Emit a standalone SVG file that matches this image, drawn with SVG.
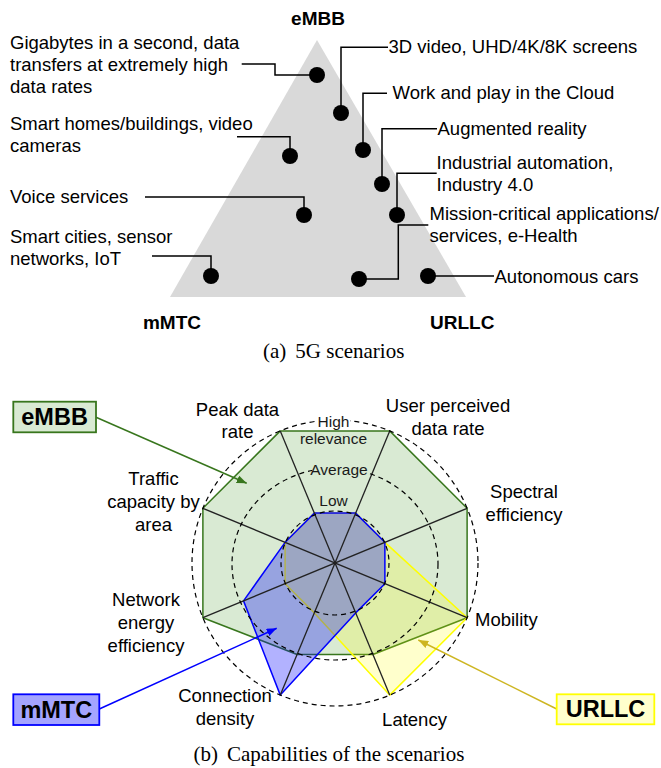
<svg xmlns="http://www.w3.org/2000/svg" width="661" height="768" viewBox="0 0 661 768">
<style>
text{font-family:"Liberation Sans",Arial,sans-serif;fill:#000}
.t{font-size:18.5px}
.b{font-weight:bold;font-size:19px}
.bx{font-weight:bold;font-size:23.5px}
.cap{font-family:"Liberation Serif","Times New Roman",serif;font-size:21px}
.r{font-size:15.5px;fill:#1a1a1a}
.con{fill:none;stroke:#000;stroke-width:1.5}
.dot{fill:#000}
.dash{fill:none;stroke:#000;stroke-width:1.2;stroke-dasharray:5 4}
.spoke{stroke:#222;stroke-width:1.3}
</style>
<defs>
<marker id="ag" markerUnits="userSpaceOnUse" markerWidth="10" markerHeight="8" refX="10" refY="4" orient="auto"><path d="M0,0 L10,4 L0,8 z" fill="#38761d"/></marker>
<marker id="ab" markerUnits="userSpaceOnUse" markerWidth="10" markerHeight="8" refX="10" refY="4" orient="auto"><path d="M0,0 L10,4 L0,8 z" fill="#0000ff"/></marker>
<marker id="ay" markerUnits="userSpaceOnUse" markerWidth="10" markerHeight="8" refX="10" refY="4" orient="auto"><path d="M0,0 L10,4 L0,8 z" fill="#cdb520"/></marker>
</defs>

<!-- (a) 5G scenarios -->
<polygon id="triangle" points="317,40 170,297 466,297" fill="#d9d9d9"/>
<g id="corners">
<text class="b" x="318" y="25" text-anchor="middle">eMBB</text>
<text class="b" x="172" y="329" text-anchor="middle">mMTC</text>
<text class="b" x="430" y="329">URLLC</text>
</g>
<g id="connectors-a">
<path class="con" d="M241.7,64 H275 V75 H317"/>
<path class="con" d="M341,113 V47.3 H388"/>
<path class="con" d="M363,150 V93.3 H387"/>
<path class="con" d="M237,136.7 H290 V156"/>
<path class="con" d="M382,184 V128.7 H437"/>
<path class="con" d="M397,215 V173.3 H436.7"/>
<path class="con" d="M145,197 H304 V215"/>
<path class="con" d="M359,279 H398.3 V225 H428.3"/>
<path class="con" d="M152,256 H211 V276"/>
<path class="con" d="M428,276 H494"/>
</g>
<g id="n-gigabytes"><text class="t" x="10" y="49">Gigabytes in a second, data</text><text class="t" x="10" y="71">transfers at extremely high</text><text class="t" x="10" y="93">data rates</text><circle class="dot" cx="317" cy="75" r="8"/></g>
<g id="n-smarthomes"><text class="t" x="10" y="130">Smart homes/buildings, video</text><text class="t" x="10" y="152">cameras</text><circle class="dot" cx="290" cy="156" r="8"/></g>
<g id="n-voice"><text class="t" x="10" y="203">Voice services</text><circle class="dot" cx="304" cy="215" r="8"/></g>
<g id="n-smartcities"><text class="t" x="10" y="243">Smart cities, sensor</text><text class="t" x="10" y="265">networks, IoT</text><circle class="dot" cx="211" cy="276" r="8"/></g>
<g id="n-3dvideo"><text class="t" x="388.5" y="53">3D video, UHD/4K/8K screens</text><circle class="dot" cx="341" cy="113" r="8"/></g>
<g id="n-cloud"><text class="t" x="392.5" y="99">Work and play in the Cloud</text><circle class="dot" cx="363" cy="150" r="8"/></g>
<g id="n-ar"><text class="t" x="437.5" y="135">Augmented reality</text><circle class="dot" cx="382" cy="184" r="8"/></g>
<g id="n-industrial"><text class="t" x="436.5" y="169">Industrial automation,</text><text class="t" x="436.5" y="191">Industry 4.0</text><circle class="dot" cx="397" cy="215" r="8"/></g>
<g id="n-mission"><text class="t" x="429.5" y="220">Mission-critical applications/</text><text class="t" x="429.5" y="242">services, e-Health</text><circle class="dot" cx="359" cy="279" r="8"/></g>
<g id="n-auto"><text class="t" x="494.5" y="282.5">Autonomous cars</text><circle class="dot" cx="428" cy="276" r="8"/></g>
<text class="cap" x="263" y="358">(a)<tspan dx="9">5G scenarios</tspan></text>

<!-- (b) Capabilities -->
<g id="radar">
<polygon id="p-embb" points="280.28,430.89 389.72,430.89 467.11,508.28 467.11,617.72 372.89,654.46 297.11,654.46 202.89,617.72 202.89,508.28" fill="#d9ead3" stroke="#38761d" stroke-width="1.5" stroke-linejoin="round"/>
<polygon id="p-urllc" points="314.34,513.11 355.66,513.11 384.89,542.34 467.11,617.72 389.72,695.11 314.34,612.89 285.11,583.66 285.11,542.34" fill="#ffff00" fill-opacity="0.2" stroke="#ffff00" stroke-width="1.5" stroke-linejoin="round"/>
<polygon id="p-mmtc" points="314.34,513.11 355.66,513.11 384.89,542.34 384.89,583.66 355.66,612.89 280.28,695.11 243.54,600.89 285.11,542.34" fill="#0000ff" fill-opacity="0.3" stroke="#0000ff" stroke-width="1.5" stroke-linejoin="round"/>
<g id="spokes">
<line class="spoke" x1="280.28" y1="430.89" x2="389.72" y2="695.11"/>
<line class="spoke" x1="389.72" y1="430.89" x2="280.28" y2="695.11"/>
<line class="spoke" x1="467.11" y1="508.28" x2="202.89" y2="617.72"/>
<line class="spoke" x1="467.11" y1="617.72" x2="202.89" y2="508.28"/>
</g>
<ellipse class="dash" cx="335" cy="563" rx="54" ry="52"/>
<ellipse class="dash" cx="335" cy="564" rx="103" ry="96"/>
<circle class="dash" cx="335" cy="563" r="143"/>
<rect x="317" y="411" width="33" height="17" fill="#fff"/>
<rect x="312" y="461" width="54" height="17" fill="#d9ead3"/>
<text class="r" x="333.5" y="426.5" text-anchor="middle">High</text>
<text class="r" x="333.5" y="444" text-anchor="middle">relevance</text>
<text class="r" x="339" y="475" text-anchor="middle">Average</text>
<text class="r" x="333.5" y="506" text-anchor="middle">Low</text>
</g>
<g id="axis-labels">
<text class="t" x="237.5" y="416" text-anchor="middle">Peak data</text>
<text class="t" x="237.5" y="438" text-anchor="middle">rate</text>
<text class="t" x="448" y="412" text-anchor="middle">User perceived</text>
<text class="t" x="448" y="435" text-anchor="middle">data rate</text>
<text class="t" x="524" y="498" text-anchor="middle">Spectral</text>
<text class="t" x="524" y="521" text-anchor="middle">efficiency</text>
<text class="t" x="153.5" y="484.5" text-anchor="middle">Traffic</text>
<text class="t" x="153.5" y="508" text-anchor="middle">capacity by</text>
<text class="t" x="153.5" y="531" text-anchor="middle">area</text>
<text class="t" x="146" y="606" text-anchor="middle">Network</text>
<text class="t" x="146" y="629" text-anchor="middle">energy</text>
<text class="t" x="146" y="652" text-anchor="middle">efficiency</text>
<text class="t" x="225" y="702" text-anchor="middle">Connection</text>
<text class="t" x="225" y="725" text-anchor="middle">density</text>
<text class="t" x="414.5" y="726" text-anchor="middle">Latency</text>
<text class="t" x="475" y="626">Mobility</text>
</g>
<g id="connectors-b">
<line x1="96" y1="417.3" x2="246.7" y2="483.3" stroke="#38761d" stroke-width="1.5" marker-end="url(#ag)"/>
<line x1="99.3" y1="709" x2="276.7" y2="628.3" stroke="#0000ff" stroke-width="1.5" marker-end="url(#ab)"/>
<line x1="556.7" y1="709" x2="418.3" y2="640" stroke="#cdb520" stroke-width="1.5" marker-end="url(#ay)"/>
</g>
<g id="box-embb"><rect x="13.3" y="401.7" width="82.7" height="30.6" fill="#d9ead3" stroke="#38761d" stroke-width="1.8"/><text class="bx" x="54.6" y="425.3" text-anchor="middle">eMBB</text></g>
<g id="box-mmtc"><rect x="13.3" y="694.3" width="86" height="30.7" fill="#a4a4ff" stroke="#0000ff" stroke-width="1.8"/><text class="bx" x="56.3" y="717.5" text-anchor="middle">mMTC</text></g>
<g id="box-urllc"><rect x="556.7" y="694.3" width="97.6" height="30" fill="#ffffcc" stroke="#ffff00" stroke-width="1.8"/><text class="bx" x="605.5" y="717" text-anchor="middle">URLLC</text></g>
<text class="cap" x="193.5" y="761">(b)<tspan dx="9">Capabilities of the scenarios</tspan></text>
</svg>
